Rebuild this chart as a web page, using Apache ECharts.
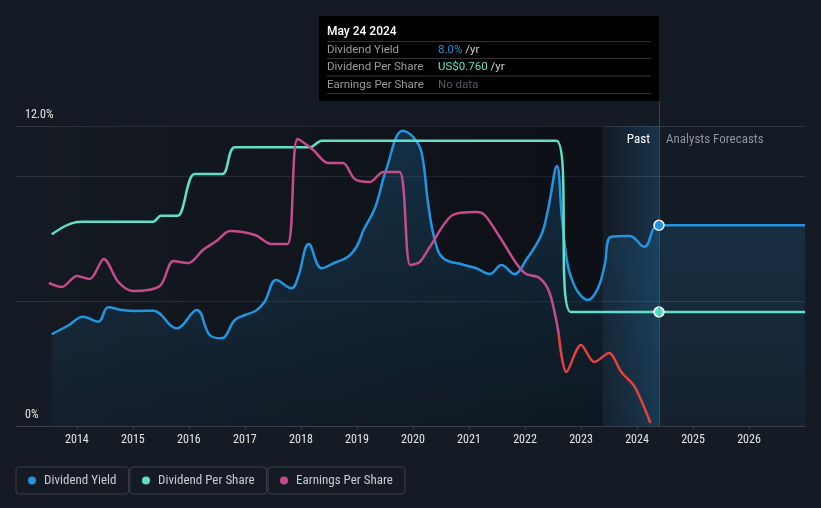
<!DOCTYPE html>
<html><head><meta charset="utf-8">
<script src="https://cdn.jsdelivr.net/npm/echarts@6/dist/echarts.min.js"></script>
<style>html,body{margin:0;padding:0;background:#151b24;} #c{width:821px;height:508px;}</style>
</head><body><div id="c"></div>
<script>
// ---- data ----
const yearTicks = [2014,2015,2016,2017,2018,2019,2020,2021,2022,2023,2024,2025,2026];
const yLabels = {0:'0%', 12:'12.0%'};
const NOW_T = 2024.393;       // May 24 2024
const PAST_START = 2023.385;  // start of "Past" band
const DATA_START = 2013.55;
const X_MIN = 2012.912, X_MAX = 2027.0;

const yieldTimes = [2013.55,2013.85,2014.11,2014.38,2014.56,2014.80,2015.05,2015.36,2015.78,2016.14,2016.37,2016.58,2016.82,2017.00,2017.20,2017.35,2017.56,2017.83,2017.95,2018.14,2018.37,2018.60,2018.84,2019.00,2019.12,2019.32,2019.52,2019.82,2020.00,2020.15,2020.27,2020.39,2020.54,2020.90,2021.13,2021.37,2021.58,2021.81,2022.02,2022.29,2022.41,2022.57,2022.66,2022.75,2022.82,2022.95,2023.12,2023.30,2023.42,2023.54,2023.87,2024.13,2024.393,2027.0];
const yieldValues = [3.67,4.03,4.37,4.17,4.75,4.64,4.60,4.61,3.91,4.64,3.64,3.51,4.24,4.44,4.62,4.97,5.84,5.51,5.97,7.28,6.31,6.53,6.77,7.2,7.85,8.71,10.24,11.81,11.57,10.97,8.91,7.44,6.71,6.45,6.31,6.08,6.44,6.08,6.64,7.64,8.64,10.4,8.3,6.6,5.97,5.35,5.04,5.5,6.4,7.57,7.60,7.17,8.03,8.03];

const dpsTimes = [2013.55,2013.80,2014.00,2014.11,2015.36,2015.50,2015.80,2016.10,2016.60,2016.82,2018.16,2018.37,2022.56,2022.82,2024.393,2027.0];
const dpsValues = [1.278,1.335,1.36,1.362,1.362,1.402,1.402,1.68,1.68,1.858,1.858,1.902,1.902,0.76,0.76,0.76];

const epsTimes = [2013.50,2013.73,2014.00,2014.23,2014.48,2014.74,2015.00,2015.48,2015.72,2015.99,2016.25,2016.49,2016.73,2017.18,2017.47,2017.76,2017.94,2018.22,2018.48,2018.75,2018.96,2019.23,2019.47,2019.76,2019.95,2020.12,2020.30,2020.71,2021.13,2021.28,2021.55,2021.84,2022.02,2022.26,2022.44,2022.60,2022.74,2023.00,2023.24,2023.50,2023.72,2023.96,2024.24];
const epsValues = [1.43,1.39,1.50,1.47,1.67,1.44,1.35,1.40,1.65,1.63,1.76,1.85,1.95,1.91,1.82,1.82,2.87,2.76,2.63,2.63,2.47,2.44,2.54,2.54,1.61,1.64,1.79,2.11,2.14,2.11,1.89,1.63,1.52,1.48,1.33,0.93,0.54,0.81,0.64,0.73,0.54,0.39,0.03];
const EPS_RED_FROM = 2022.6;

const tipTitle = 'May 24 2024';
const tipRows = [
  {label:'Dividend Yield', value:'8.0%', unit:'/yr', kind:'y'},
  {label:'Dividend Per Share', value:'US$0.760', unit:'/yr', kind:'d'},
  {label:'Earnings Per Share', value:'No data', unit:'', kind:'n'}
];

// ---- styles ----
const BLUE='#2394df', TEAL='#5fe0c6', PINK='#c54b8c', RED='#e5413f';
const FONT_N = '"Liberation Sans Narrow","Roboto Condensed","Roboto",sans-serif';
const FONT_T = 'Roboto, sans-serif';
const zip = (ts, vs) => ts.map((t,i)=>[t, vs[i]]);
const epsAll = zip(epsTimes, epsValues);
const epsPink = epsAll.filter(p => p[0] <= EPS_RED_FROM);
const epsRed = epsAll.filter(p => p[0] >= EPS_RED_FROM);

const chart = echarts.init(document.getElementById('c'), null, {renderer:'canvas'});
const legendBase = {
  orient:'horizontal', icon:'circle', itemWidth:8, itemHeight:8, selectedMode:false,
  borderColor:'#3a3f48', borderWidth:1, borderRadius:3, padding:[7,12,7,12], top:467,
  textStyle:{color:'#c8cbd0', fontSize:13, fontFamily:FONT_N, padding:[0,0,0,3]}
};
const option = {
  backgroundColor:'#151b24',
  animation:false,
  grid:{left:16, right:16, top:126, bottom:82},
  legend:[
    Object.assign({}, legendBase, {left:16, data:[{name:'Dividend Yield', itemStyle:{color:BLUE}}]}),
    Object.assign({}, legendBase, {left:130, data:[{name:'Dividend Per Share', itemStyle:{color:TEAL}}]}),
    Object.assign({}, legendBase, {left:268, data:[{name:'Earnings Per Share', itemStyle:{color:PINK}}]})
  ],
  xAxis:{
    type:'value', min:X_MIN, max:X_MAX,
    axisLine:{lineStyle:{color:'#3a4049'}},
    axisTick:{show:true, customValues:yearTicks, length:4, lineStyle:{color:'#3a4049'}},
    axisLabel:{customValues:yearTicks, formatter:v=>String(Math.round(v)), color:'#e6e6e6', fontSize:12, fontFamily:FONT_N, margin:8},
    splitLine:{show:false}
  },
  yAxis:[
    {type:'value', min:0, max:12, interval:5, axisLine:{show:false}, axisTick:{show:false},
     splitLine:{lineStyle:{color:'#2f353e'}},
     axisLabel:{inside:true, margin:9, formatter:v=>yLabels[v]||'', color:'#e6e6e6', fontSize:12, fontFamily:FONT_N, verticalAlign:'bottom', padding:[0,0,5,0]}},
    {type:'value', min:0, max:2, show:false},
    {type:'value', min:0, max:3, show:false}
  ],
  series:[
    {type:'line', name:'_bg', data:[[DATA_START,0]], symbol:'none', lineStyle:{opacity:0}, z:1, silent:true,
     markArea:{silent:true, z:1, data:[
       [{xAxis:DATA_START, itemStyle:{color:{type:'linear',x:0,y:0,x2:1,y2:0,colorStops:[{offset:0,color:'rgba(0,0,0,0.06)'},{offset:1,color:'rgba(0,0,0,0.4)'}]}}},{xAxis:PAST_START}],
       [{xAxis:PAST_START, itemStyle:{color:{type:'linear',x:0,y:0,x2:1,y2:0,colorStops:[{offset:0,color:'rgba(35,148,223,0)'},{offset:1,color:'rgba(35,148,223,0.2)'}]}},
         label:{show:true, position:'insideTopRight', formatter:'Past', color:'#ffffff', fontSize:13, fontFamily:FONT_N, padding:[2,4,0,0]}},{xAxis:NOW_T}],
       [{xAxis:NOW_T, itemStyle:{color:'rgba(0,0,0,0)'},
         label:{show:true, position:'insideTopLeft', formatter:'Analysts Forecasts', color:'#8c939c', fontSize:13, fontFamily:FONT_N, padding:[2,0,0,2]}},{xAxis:X_MAX}]
     ]}},
    {type:'line', name:'Dividend Yield', yAxisIndex:0, data:zip(yieldTimes,yieldValues), smooth:0.4, symbol:'none', z:3,
     lineStyle:{color:BLUE, width:2.5}, itemStyle:{color:BLUE},
     areaStyle:{color:{type:'linear',x:0,y:0,x2:0,y2:1,colorStops:[{offset:0,color:'rgba(35,148,223,0.3)'},{offset:1,color:'rgba(35,148,223,0.07)'}]}},
     markPoint:{symbol:'circle', symbolSize:10, label:{show:false}, itemStyle:{color:BLUE, borderColor:'#fff', borderWidth:1.5},
       data:[{coord:[NOW_T, yieldValues[yieldTimes.indexOf(NOW_T)]]}]}},
    {type:'line', name:'Dividend Per Share', yAxisIndex:1, data:zip(dpsTimes,dpsValues), smooth:0.3, symbol:'none', z:4,
     lineStyle:{color:TEAL, width:2.5}, itemStyle:{color:TEAL},
     markPoint:{symbol:'circle', symbolSize:10, label:{show:false}, itemStyle:{color:TEAL, borderColor:'#fff', borderWidth:1.5},
       data:[{coord:[NOW_T, dpsValues[dpsTimes.indexOf(NOW_T)]]}]}},
    {type:'line', name:'Earnings Per Share', yAxisIndex:2, data:epsPink, smooth:0.3, symbol:'none', z:5,
     lineStyle:{color:PINK, width:2.5}, itemStyle:{color:PINK}},
    {type:'line', name:'Earnings Per Share', yAxisIndex:2, data:epsRed, smooth:0.3, symbol:'none', z:5,
     lineStyle:{color:RED, width:2.5}, itemStyle:{color:PINK}}
  ]
};
chart.setOption(option);

// ---- static tooltip + "now" line, placed through the axis scales ----
const px = chart.convertToPixel({xAxisIndex:0}, NOW_T);
const yBottom = chart.convertToPixel({yAxisIndex:0}, 0);
const TW = 340, TT = 16, TH = 85, L = px - TW;
const g = [];
g.push({type:'line', shape:{x1:px+0.5, y1:TT+TH, x2:px+0.5, y2:yBottom}, style:{stroke:'rgba(70,120,170,0.5)', lineWidth:1}, z:50, silent:true});
g.push({type:'rect', shape:{x:L, y:TT, width:TW, height:TH}, style:{fill:'#000000'}, z:100, silent:true});
g.push({type:'text', x:L+8, y:TT+15.5, style:{text:tipTitle, fill:'#ffffff', fontSize:12, fontWeight:500, fontFamily:FONT_T, verticalAlign:'middle'}, z:101, silent:true});
const sepY = [TT+25.5, TT+42.5, TT+60, TT+77.5];
sepY.forEach(y=>g.push({type:'line', shape:{x1:L+8, y1:y, x2:L+332, y2:y}, style:{stroke:'#333333', lineWidth:1}, z:101, silent:true}));
tipRows.forEach((r,i)=>{
  const yc = (sepY[i]+sepY[i+1])/2;
  g.push({type:'text', x:L+8, y:yc, style:{text:r.label, fill:'#9b9b9b', fontSize:11.5, fontFamily:FONT_T, verticalAlign:'middle'}, z:101, silent:true});
  const vc = r.kind==='y'?BLUE:(r.kind==='d'?TEAL:'#555a60');
  const txt = r.unit ? '{v|'+r.value+'} {u|'+r.unit+'}' : '{v|'+r.value+'}';
  g.push({type:'text', x:L+119, y:yc, style:{text:txt, verticalAlign:'middle', fontSize:11.5, fontFamily:FONT_T,
    rich:{v:{fill:vc, fontSize:11.5, fontFamily:FONT_T}, u:{fill:'#cfcfcf', fontSize:11.5, fontFamily:FONT_T}}}, z:101, silent:true});
});
chart.setOption({graphic:g});
</script>
</body></html>
